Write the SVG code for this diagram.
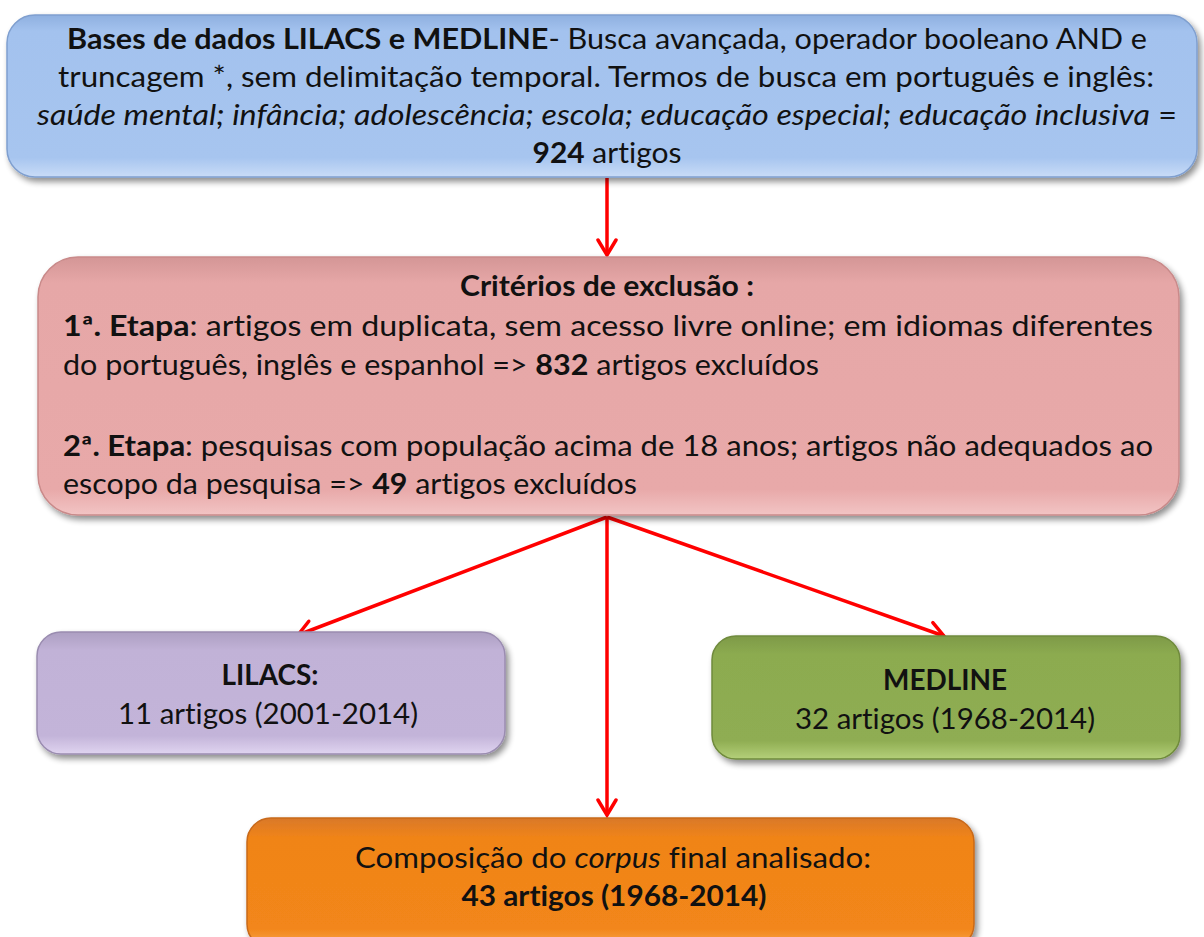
<svg xmlns="http://www.w3.org/2000/svg" width="1204" height="937" viewBox="0 0 1204 937">
<style>
text{font-family:Lato,"Liberation Sans",sans-serif;fill:#111;font-variant-ligatures:none;font-feature-settings:"liga" 0;}
.t{font-size:28px;}
.b{font-weight:bold;}
.i{font-style:italic;}
.box{stroke-width:1.5;}
.conn{stroke:#f00;stroke-width:3.5;fill:none;marker-end:url(#ah);}
</style>
<defs>
<marker id="ah" viewBox="0 0 22 22" refX="18" refY="11" markerWidth="22" markerHeight="22" markerUnits="userSpaceOnUse" orient="auto">
<path d="M3,2 L18,11 L3,20" fill="none" stroke="#f00" stroke-width="3.5" stroke-linecap="round" stroke-linejoin="miter"/>
</marker>
<filter id="sh" x="-5%" y="-10%" width="115%" height="130%">
<feGaussianBlur in="SourceAlpha" stdDeviation="3"/>
<feOffset dx="3" dy="4" result="o"/>
<feComponentTransfer><feFuncA type="linear" slope="0.45"/></feComponentTransfer>
<feMerge><feMergeNode/><feMergeNode in="SourceGraphic"/></feMerge>
</filter>
<linearGradient id="gBlue" x1="0" y1="0" x2="0" y2="1">
<stop offset="0" stop-color="#8fb0e0"/><stop offset="0.1" stop-color="#a3c2ee"/><stop offset="0.88" stop-color="#a7c5ef"/><stop offset="1" stop-color="#c9dcf7"/>
</linearGradient>
<linearGradient id="gPink" x1="0" y1="0" x2="0" y2="1">
<stop offset="0" stop-color="#d49696"/><stop offset="0.1" stop-color="#e6a7a7"/><stop offset="0.9" stop-color="#e8a9a9"/><stop offset="1" stop-color="#f2c4c4"/>
</linearGradient>
<linearGradient id="gPurp" x1="0" y1="0" x2="0" y2="1">
<stop offset="0" stop-color="#ad9fc2"/><stop offset="0.15" stop-color="#c1b2d7"/><stop offset="0.85" stop-color="#c3b4d9"/><stop offset="1" stop-color="#e0d4f0"/>
</linearGradient>
<linearGradient id="gGreen" x1="0" y1="0" x2="0" y2="1">
<stop offset="0" stop-color="#7e9a48"/><stop offset="0.15" stop-color="#8cab50"/><stop offset="0.85" stop-color="#8fad52"/><stop offset="1" stop-color="#b4d07a"/>
</linearGradient>
<linearGradient id="gOrange" x1="0" y1="0" x2="0" y2="1">
<stop offset="0" stop-color="#d9782a"/><stop offset="0.15" stop-color="#f08418"/><stop offset="0.85" stop-color="#f2861a"/><stop offset="1" stop-color="#f8a850"/>
</linearGradient>
</defs>
<rect width="1204" height="937" fill="#fff"/>

<g id="connectors">
<line class="conn" x1="607" y1="178" x2="607" y2="255"/>
<line class="conn" x1="607" y1="517" x2="298" y2="635"/>
<line class="conn" x1="607" y1="517" x2="944" y2="636"/>
<line class="conn" x1="607" y1="517" x2="607" y2="815"/>
</g>

<g id="node-bases">
<rect class="box" x="7" y="15" width="1190" height="162" rx="28" fill="url(#gBlue)" stroke="#7f9fcf" filter="url(#sh)"/>
<text class="t" x="607" y="49" text-anchor="middle" textLength="1080" lengthAdjust="spacingAndGlyphs"><tspan class="b">Bases de dados LILACS  e MEDLINE</tspan>- Busca avançada,  operador  booleano AND e</text>
<text class="t" x="606" y="87" text-anchor="middle" textLength="1096" lengthAdjust="spacingAndGlyphs">truncagem *,  sem delimitação temporal. Termos  de busca em português e inglês:</text>
<text class="t" x="607" y="125" text-anchor="middle" textLength="1140" lengthAdjust="spacingAndGlyphs"><tspan class="i">saúde mental; infância; adolescência; escola; educação especial; educação inclusiva</tspan> =</text>
<text class="t" x="607" y="163" text-anchor="middle" textLength="149" lengthAdjust="spacingAndGlyphs"><tspan class="b">924</tspan> artigos</text>
</g>

<g id="node-exclusao">
<rect class="box" x="38" y="257" width="1141" height="258" rx="40" fill="url(#gPink)" stroke="#c98a8a" filter="url(#sh)"/>
<text class="t b" x="607" y="296" text-anchor="middle" textLength="294" lengthAdjust="spacingAndGlyphs">Critérios de exclusão :</text>
<text class="t" x="63" y="336" textLength="1090" lengthAdjust="spacingAndGlyphs"><tspan class="b">1ª. Etapa</tspan>: artigos em duplicata, sem acesso livre online; em idiomas diferentes</text>
<text class="t" x="63" y="375" textLength="756" lengthAdjust="spacingAndGlyphs">do português, inglês e espanhol =&gt; <tspan class="b">832</tspan> artigos excluídos</text>
<text class="t" x="63" y="456" textLength="1090" lengthAdjust="spacingAndGlyphs"><tspan class="b">2ª. Etapa</tspan>: pesquisas com população acima de 18 anos; artigos não adequados ao</text>
<text class="t" x="63" y="494" textLength="574" lengthAdjust="spacingAndGlyphs">escopo da pesquisa =&gt; <tspan class="b">49</tspan> artigos excluídos</text>
</g>

<g id="node-lilacs">
<rect class="box" x="37" y="632" width="468" height="122" rx="24" fill="url(#gPurp)" stroke="#9a8cb0" filter="url(#sh)"/>
<text class="t b" x="270" y="685" text-anchor="middle" textLength="97" lengthAdjust="spacingAndGlyphs">LILACS:</text>
<text class="t" x="268" y="724" text-anchor="middle" textLength="300" lengthAdjust="spacingAndGlyphs">11 artigos (2001-2014)</text>
</g>

<g id="node-medline">
<rect class="box" x="712" y="636" width="468" height="123" rx="24" fill="url(#gGreen)" stroke="#6f8a3c" filter="url(#sh)"/>
<text class="t b" x="945" y="690" text-anchor="middle" textLength="124" lengthAdjust="spacingAndGlyphs">MEDLINE</text>
<text class="t" x="945" y="729" text-anchor="middle" textLength="300" lengthAdjust="spacingAndGlyphs">32 artigos (1968-2014)</text>
</g>

<g id="node-corpus">
<rect class="box" x="247" y="818" width="727" height="130" rx="24" fill="url(#gOrange)" stroke="#c8691a" filter="url(#sh)"/>
<text class="t" x="613" y="868" text-anchor="middle" textLength="516" lengthAdjust="spacingAndGlyphs">Composição do <tspan class="i">corpus</tspan> final analisado:</text>
<text class="t b" x="614" y="906" text-anchor="middle" textLength="305" lengthAdjust="spacingAndGlyphs">43 artigos (1968-2014)</text>
</g>
</svg>
